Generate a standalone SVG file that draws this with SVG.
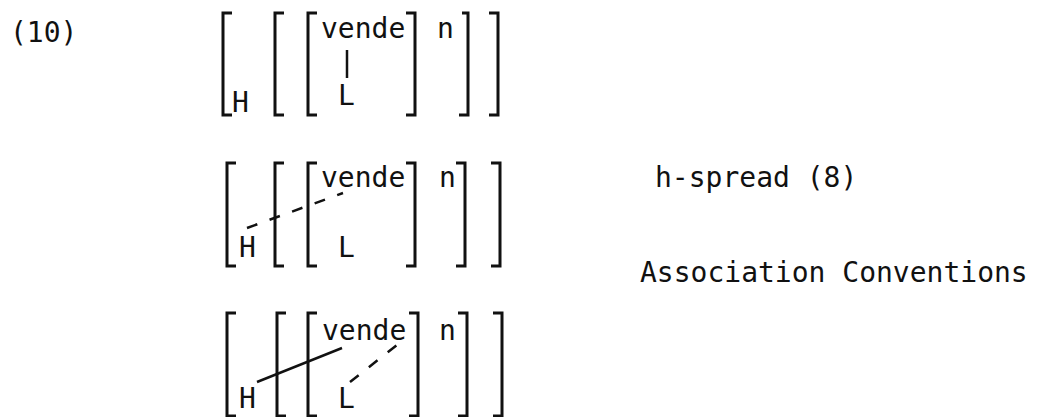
<svg xmlns="http://www.w3.org/2000/svg" width="1039" height="417" viewBox="0 0 1039 417">
  <style>
    .t { font-family: "DejaVu Sans Mono", "Liberation Mono", monospace; font-size: 28px; fill: #111; }
    .br { fill: none; stroke: #111; stroke-width: 3; }
    .solid { stroke: #111; stroke-width: 2.5; fill: none; }
    .dash { stroke: #111; stroke-width: 2.5; fill: none; stroke-dasharray: 11 13; }
  </style>
  <rect width="1039" height="417" fill="#fff"/>

  <g id="example-number">
    <text class="t" x="10" y="42" font-size="26">(10)</text>
  </g>

  <g id="row1">
    <path class="br" d="M232,13 H223 V115 H232"/>
    <path class="br" d="M284,13 H275 V115 H284"/>
    <path class="br" d="M317,13 H308 V115 H317"/>
    <path class="br" d="M406,13 H415 V115 H406"/>
    <path class="br" d="M462,13 H468 V115 H459"/>
    <path class="br" d="M489,13 H498 V115 H489"/>
    <text class="t" x="232" y="112">H</text>
    <text class="t" x="321" y="38">vende</text>
    <text class="t" x="437" y="38">n</text>
    <text class="t" x="338" y="105">L</text>
  </g>

  <g id="row2">
    <path class="br" d="M236,163 H227 V266 H236"/>
    <path class="br" d="M284,163 H275 V266 H284"/>
    <path class="br" d="M317,163 H308 V266 H317"/>
    <path class="br" d="M406,163 H415 V266 H406"/>
    <path class="br" d="M456,163 H465 V266 H456"/>
    <path class="br" d="M491,163 H500 V266 H491"/>
    <text class="t" x="239" y="257">H</text>
    <text class="t" x="321" y="187">vende</text>
    <text class="t" x="439" y="187">n</text>
    <text class="t" x="338" y="257">L</text>
  </g>

  <g id="row3">
    <path class="br" d="M236,313 H227 V416 H236"/>
    <path class="br" d="M286,313 H277 V416 H286"/>
    <path class="br" d="M317,313 H308 V416 H317"/>
    <path class="br" d="M409,313 H418 V416 H409"/>
    <path class="br" d="M458,313 H467 V416 H458"/>
    <path class="br" d="M493,313 H502 V416 H493"/>
    <text class="t" x="239" y="408">H</text>
    <text class="t" x="322" y="340">vende</text>
    <text class="t" x="439" y="340">n</text>
    <text class="t" x="338" y="408">L</text>
  </g>

  <g id="rule-labels">
    <text class="t" x="655" y="187">h-spread (8)</text>
    <text class="t" x="640" y="282">Association Conventions</text>
  </g>

  <g id="connectors">
    <line class="solid" x1="347" y1="50" x2="347" y2="78"/>
    <line class="dash" x1="247" y1="228" x2="343" y2="193"/>
    <line class="solid" x1="257" y1="382" x2="342" y2="348"/>
    <line class="dash" x1="350" y1="382" x2="397" y2="345" stroke-dasharray="8 8"/>
  </g>
</svg>
